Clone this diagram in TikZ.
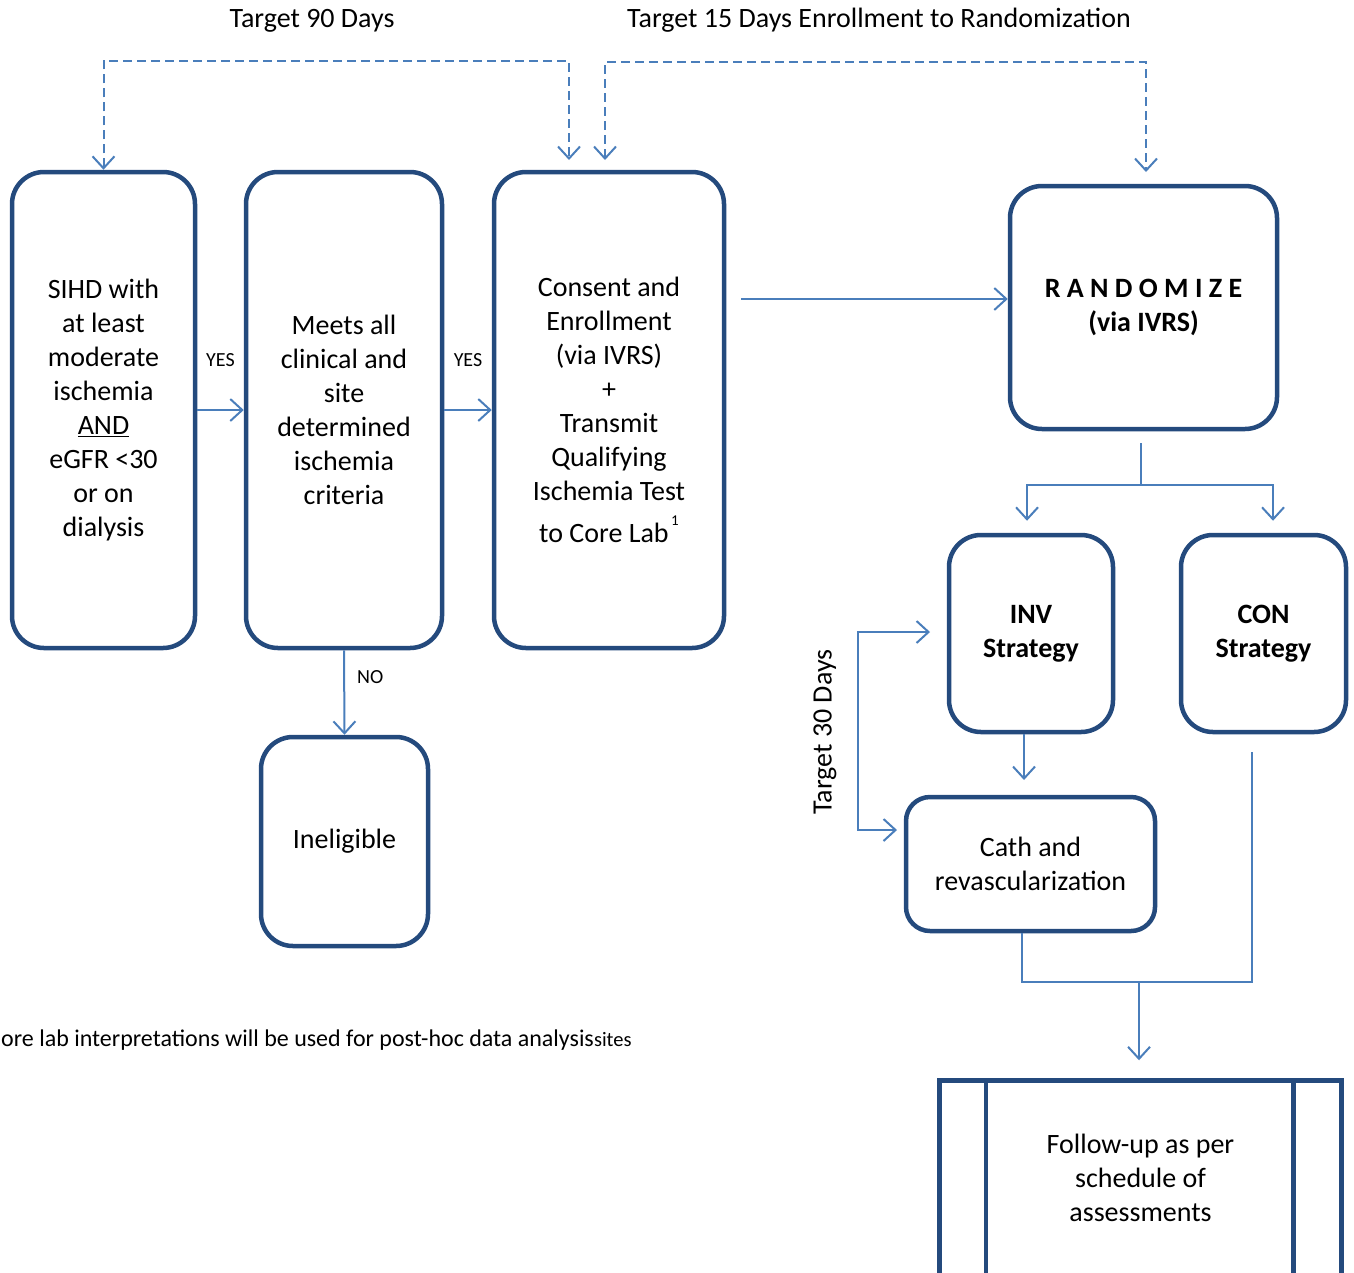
\documentclass[tikz,border=0pt]{standalone}
\usepackage{fontspec}
\setmainfont{Carlito}
\usetikzlibrary{arrows.meta}

\definecolor{boxblue}{RGB}{36,74,125}
\definecolor{linkblue}{RGB}{74,126,187}

\begin{document}
\begin{tikzpicture}[
  x=1pt,
  y=-1pt,
  >={Straight Barb[length=12pt,width=22pt]},
  box/.style={draw=boxblue, line width=4.5pt, rounded corners=32pt,
    align=center, inner sep=0pt, font=\fontsize{28}{34}\selectfont},
  link/.style={draw=linkblue, line width=2pt},
  dashlink/.style={link, dash pattern=on 9pt off 5pt},
  tag/.style={font=\fontsize{20}{20}\selectfont, inner sep=0pt},
  title/.style={font=\fontsize{28}{34}\selectfont, inner sep=0pt}
]
  \useasboundingbox (0,0) rectangle (1354,1272);
  \clip (0,0) rectangle (1354,1272);

  \node[box, minimum width=183pt, minimum height=476pt] (sihd) at (103.5,410)
    {SIHD with\\at least\\moderate\\ischemia\\\underline{AND}\\eGFR <30\\or on\\dialysis};
  \node[box, minimum width=196pt, minimum height=476pt] (meets) at (344,410)
    {Meets all\\clinical and\\site\\determined\\ischemia\\criteria};
  \node[box, minimum width=230pt, minimum height=476pt] (cons) at (609,410)
    {Consent and\\Enrollment\\(via IVRS)\\+\\Transmit\\Qualifying\\Ischemia Test\\[8pt]
     to Core Lab\raisebox{17pt}{\fontsize{15}{15}\selectfont\,1}};
  \node[box, minimum width=267pt, minimum height=243pt, font=\fontsize{28}{34}\selectfont\bfseries] (rand) at (1143.5,307.5)
    {R A N D O M I Z E\\(via IVRS)};
  \node[box, minimum width=164pt, minimum height=197pt, font=\fontsize{28}{34}\selectfont\bfseries] (inv) at (1031,633.5)
    {INV\\Strategy};
  \node[box, minimum width=165pt, minimum height=197pt, font=\fontsize{28}{34}\selectfont\bfseries] (con) at (1263.5,633.5)
    {CON\\Strategy};
  \node[box, rounded corners=24pt, minimum width=249pt, minimum height=134pt] (cath) at (1030.5,864)
    {Cath and\\revascularization};
  \node[box, minimum width=167pt, minimum height=209pt] (inel) at (344.5,841.5)
    {Ineligible};
  \node[box, rounded corners=0pt, minimum width=402pt, minimum height=195pt] (follow) at (1140.5,1178)
    {Follow-up as per\\schedule of\\assessments};
  \draw[boxblue, line width=4.5pt] ([xshift=48.5pt]follow.north west) -- ([xshift=48.5pt]follow.south west);
  \draw[boxblue, line width=4.5pt] ([xshift=-50.5pt]follow.north east) -- ([xshift=-50.5pt]follow.south east);

  \node[title] (t90) at (312,21) {Target 90 Days};
  \node[title] (t15) at (879,20) {Target 15 Days Enrollment to Randomization};
  \node[title, rotate=90] (t30) at (825,732) {Target 30 Days};
  \node[tag, anchor=base west, font=\fontsize{24}{24}\selectfont] (note) at (1,1046)
    {ore lab interpretations will be used for post-hoc data analysis{\fontsize{20.5}{20}\selectfont sites}};

  \coordinate (top90) at (0,61);
  \coordinate (top15) at (0,62);
  \coordinate (c90) at (569,160);
  \coordinate (c15) at (605,160);
  \coordinate (r15) at (1146,172);
  \coordinate (enr) at (741,299);
  \coordinate (split) at (1141,485);
  \coordinate (cathin) at (1024,780);
  \coordinate (b30) at (858,632);
  \coordinate (invin) at (930,632);
  \coordinate (cathside) at (897,830);
  \coordinate (mleft) at (1022,982);
  \coordinate (mright) at (1252,982);
  \coordinate (conout) at (1252,752);
  \coordinate (merge) at (1139,982);

  \draw[dashlink, <->] (sihd.north) -- (sihd.north |- top90) -| (c90);
  \draw[dashlink, <->] (c15) -- (c15 |- top15) -| (r15);

  \draw[link, ->] (sihd) -- (meets) node[tag, midway, above=42pt] {YES};
  \draw[link, ->] (meets) -- (cons) node[tag, midway, above=42pt] {YES};
  \draw[link, ->] (meets.south) -- (inel.north) node[tag, pos=0.32, right=12pt] {NO};
  \draw[link, ->] (enr) -- (rand.west |- enr);

  \draw[link] ([yshift=-12pt]rand.south -| split) -- (split);
  \draw[link, ->] (split) -| ([yshift=12pt]inv.north -| 1027,0);
  \draw[link, ->] (split) -| ([yshift=12pt]con.north -| 1273,0);
  \draw[link, ->] (inv.south -| cathin) -- (cathin);
  \draw[link, <->] (invin) -- (b30) |- (cathside);

  \draw[link] (cath.south -| mleft) -- (mleft) -- (mright) -- (conout);
  \draw[link, ->] (merge) -- ([yshift=18pt]follow.north -| merge);
\end{tikzpicture}
\end{document}
